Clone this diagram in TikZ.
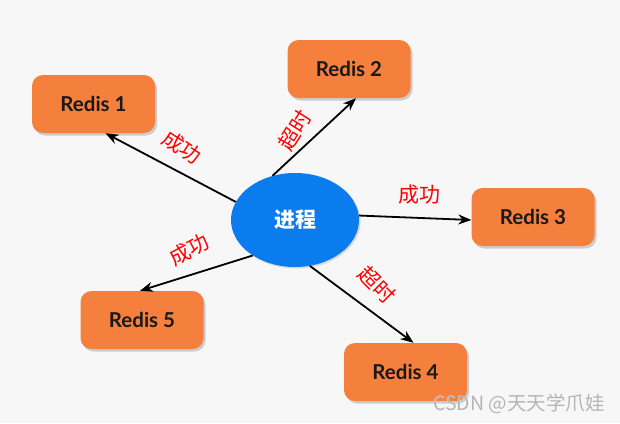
\documentclass[tikz,border=0pt]{standalone}
\usepackage{fontspec}
\setmainfont{Lato}
\newfontfamily\cjk{Noto Sans CJK SC}
\usepackage[outline]{contour}
\contourlength{1.4pt}
\usetikzlibrary{shapes.geometric,shadows,arrows.meta}
\definecolor{bgc}{HTML}{F7F7F7}
\definecolor{boxc}{HTML}{F5803E}
\definecolor{ellc}{HTML}{0A7CEE}
\definecolor{markc}{HTML}{B4B4B4}
\tikzset{
  redisbox/.style={draw=none, fill=boxc, rounded corners=11pt, minimum width=123pt, minimum height=58pt,
    font=\bfseries\fontsize{20.5}{20.5}\selectfont, text=black!90,
    drop shadow={opacity=0.35, shadow xshift=2pt, shadow yshift=-2.5pt}},
  procnode/.style={ellipse, fill=ellc, minimum width=128pt, minimum height=94pt, inner sep=0pt,
    font=\cjk\bfseries\fontsize{21}{21}\selectfont, text=white,
    drop shadow={opacity=0.25, shadow xshift=1.5pt, shadow yshift=-1.5pt}},
  edgelabel/.style={font=\cjk\fontsize{21}{21}\selectfont, text=red, inner sep=0pt},
  link/.style={-{Stealth[length=13pt,width=10pt]}, line width=1.8pt, black}
}
\begin{document}
\begin{tikzpicture}[x=1pt,y=-1pt]
\fill[bgc] (0,0) rectangle (620,423);
\useasboundingbox (0,0) rectangle (620,423);
\node[procnode] (p) at (295,220) {进程};
\node[redisbox] (r1) at (93.5,104) {Redis 1};
\node[redisbox] (r2) at (349,69) {Redis 2};
\node[redisbox] (r3) at (533,217) {Redis 3};
\node[redisbox] (r4) at (405.5,372) {Redis 4};
\node[redisbox] (r5) at (142,320) {Redis 5};
\draw[link] (p.163) -- ([xshift=12pt]r1.south);
\draw[link] (p.117) -- ([xshift=7pt]r2.south);
\draw[link] (p.4) -- ([yshift=-3pt]r3.west);
\draw[link] (p.-72) -- ([xshift=8pt]r4.north);
\draw[link] (p.220) -- ([xshift=-2pt]r5.north);
\node[edgelabel, rotate=-33] (l1) at (182,147) {\contour{white}{成功}};
\node[edgelabel, rotate=58] (l2) at (295,130) {\contour{white}{超时}};
\node[edgelabel] (l3) at (419,195) {\contour{white}{成功}};
\node[edgelabel, rotate=-45] (l4) at (377,285) {\contour{white}{超时}};
\node[edgelabel, rotate=28] (l5) at (189,250) {\contour{white}{成功}};
\node[font=\cjk\fontsize{19.5}{19.5}\selectfont, text=markc, inner sep=0pt] (wm) at (519,404) {\contour{white}{CSDN @天天学爪娃}};
\end{tikzpicture}
\end{document}
